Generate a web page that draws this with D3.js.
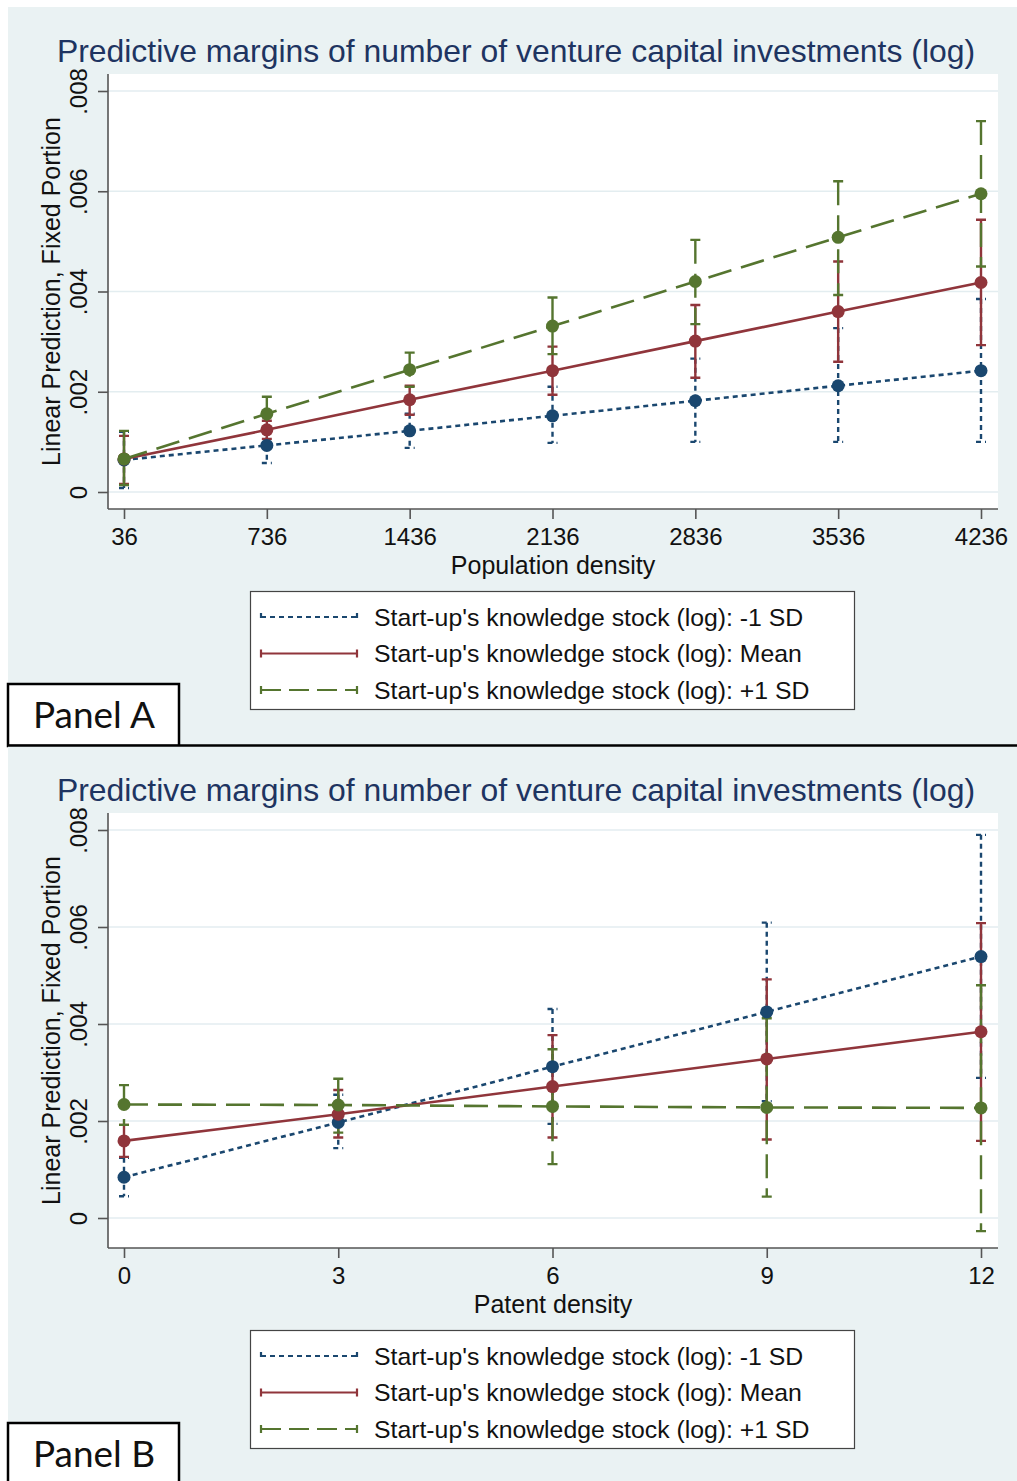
<!DOCTYPE html>
<html>
<head>
<meta charset="utf-8">
<script src="https://cdn.jsdelivr.net/npm/d3@7"></script>
<style>
  body { margin: 0; background: #fff; }
  svg { display: block; }
</style>
</head>
<body>
<svg id="chart"></svg>
<script>
// Panel A: x = population density
const popDensity = [36, 736, 1436, 2136, 2836, 3536, 4236]
const aLowMargin = [0.00064, 0.00093, 0.00122, 0.00152, 0.00182, 0.00212, 0.00242]
const aLowLower = [0.00008, 0.00058, 0.00088, 0.00098, 0.00100, 0.00100, 0.00100]
const aLowUpper = [0.00120, 0.00128, 0.00156, 0.00210, 0.00266, 0.00327, 0.00385]
const aMeanMargin = [0.00066, 0.00124, 0.00184, 0.00242, 0.00301, 0.00360, 0.00418]
const aMeanLower = [0.00016, 0.00106, 0.00154, 0.00194, 0.00228, 0.00260, 0.00293]
const aMeanUpper = [0.00112, 0.00142, 0.00212, 0.00290, 0.00373, 0.00460, 0.00543]
const aHighMargin = [0.00066, 0.00156, 0.00244, 0.00331, 0.00420, 0.00508, 0.00595]
const aHighLower = [0.00014, 0.00124, 0.00210, 0.00275, 0.00335, 0.00393, 0.00450]
const aHighUpper = [0.00122, 0.00190, 0.00278, 0.00388, 0.00503, 0.00620, 0.00740]

// Panel B: x = patent density
const patentDensity = [0, 3, 6, 9, 12]
const bLowMargin = [0.00084, 0.00197, 0.00312, 0.00425, 0.00539]
const bLowLower = [0.00045, 0.00144, 0.00194, 0.00241, 0.00289]
const bLowUpper = [0.00124, 0.00254, 0.00431, 0.00609, 0.00790]
const bMeanMargin = [0.00159, 0.00214, 0.00271, 0.00328, 0.00384]
const bMeanLower = [0.00126, 0.00166, 0.00166, 0.00162, 0.00159]
const bMeanUpper = [0.00192, 0.00264, 0.00377, 0.00492, 0.00608]
const bHighMargin = [0.00234, 0.00233, 0.00230, 0.00228, 0.00227]
const bHighLower = [0.00192, 0.00176, 0.00111, 0.00044, -0.00027]
const bHighUpper = [0.00274, 0.00287, 0.00348, 0.00412, 0.00480]

const yTicks = [0, 0.002, 0.004, 0.006, 0.008]
const seriesLabels = [
  "Start-up's knowledge stock (log): -1 SD",
  "Start-up's knowledge stock (log): Mean",
  "Start-up's knowledge stock (log): +1 SD"
]
const titleText = 'Predictive margins of number of venture capital investments (log)'
const yTitle = 'Linear Prediction, Fixed Portion'

const styles = [
  { color: '#1a476f', dash: '5,4' },
  { color: '#90353b', dash: null },
  { color: '#55752f', dash: '24,10' }
]

const W = 1017
const H = 1481
const font = "'Liberation Sans', Arial, sans-serif"

const svg = d3.select('#chart').attr('width', W).attr('height', H)
svg.append('rect').attr('width', W).attr('height', H).attr('fill', '#fff')

function makeSeries (x, mids, lows, highs) {
  return mids.map((m, i) => ({
    style: styles[i],
    label: seriesLabels[i],
    pts: x.map((xv, j) => ({ x: xv, m: m[j], lo: lows[i][j], hi: highs[i][j] }))
  }))
}

function drawPanel (cfg) {
  const g = svg.append('g').attr('transform', `translate(0,${cfg.offset})`)

  // graph region background
  g.append('rect')
    .attr('x', 8).attr('y', 7)
    .attr('width', W - 8).attr('height', cfg.bgHeight)
    .attr('fill', '#eaf2f3')

  // plot region
  const left = 108
  const right = 998
  const top = 74
  const bottom = 509
  g.append('rect')
    .attr('x', left).attr('y', top)
    .attr('width', right - left).attr('height', bottom - top)
    .attr('fill', '#fff')

  const x = d3.scaleLinear().domain(cfg.xDomain).range([124, 981])
  const y = d3.scaleLinear().domain([0, 0.008]).range(cfg.yRange)

  // gridlines
  g.append('g').selectAll('line')
    .data(yTicks)
    .join('line')
    .attr('x1', left).attr('x2', right)
    .attr('y1', d => y(d)).attr('y2', d => y(d))
    .attr('stroke', '#e3edf0').attr('stroke-width', 1.6)

  // title
  g.append('text')
    .attr('x', 516).attr('y', 62)
    .attr('text-anchor', 'middle')
    .attr('font-family', font).attr('font-size', 31.9)
    .attr('fill', '#1e3461')
    .text(titleText)

  // y axis
  const fmt = d => d === 0 ? '0' : d3.format('.3f')(d).replace(/^0/, '')
  const yAxis = g.append('g')
    .attr('transform', `translate(${left},0)`)
    .call(d3.axisLeft(y).tickValues(yTicks).tickFormat(fmt).tickSize(10).tickSizeOuter(0))
  yAxis.select('.domain').attr('d', `M0,${top}V${bottom}`)
  yAxis.selectAll('text')
    .attr('x', null).attr('dy', null)
    .attr('transform', 'translate(-21,0) rotate(-90)')
    .attr('text-anchor', 'middle')
    .attr('font-family', font).attr('font-size', 24).attr('fill', '#111')

  g.append('text')
    .attr('transform', `translate(60,${(top + bottom) / 2}) rotate(-90)`)
    .attr('text-anchor', 'middle')
    .attr('font-family', font).attr('font-size', 25).attr('fill', '#111')
    .text(yTitle)

  // x axis
  const xAxis = g.append('g')
    .attr('transform', `translate(0,${bottom})`)
    .call(d3.axisBottom(x).tickValues(cfg.xValues).tickFormat(d3.format('d')).tickSize(10).tickSizeOuter(0))
  xAxis.select('.domain').attr('d', `M${left},0H${right}`)
  xAxis.selectAll('text')
    .attr('y', 36).attr('dy', null)
    .attr('font-family', font).attr('font-size', 24).attr('fill', '#111')

  g.selectAll('.domain, .tick line').attr('stroke', '#555').attr('stroke-width', 1.6)

  g.append('text')
    .attr('x', (left + right) / 2).attr('y', bottom + 65)
    .attr('text-anchor', 'middle')
    .attr('font-family', font).attr('font-size', 25).attr('fill', '#111')
    .text(cfg.xTitle)

  // confidence intervals (drawn first, as rcap)
  const cap = 5
  cfg.series.forEach(s => {
    const ci = g.append('g')
      .attr('stroke', s.style.color).attr('stroke-width', 2.4)
      .attr('stroke-dasharray', s.style.dash)
      .attr('fill', 'none')
    ci.selectAll('path')
      .data(s.pts)
      .join('path')
      .attr('d', p => {
        const px = x(p.x)
        return `M${px - cap},${y(p.hi)}H${px + cap}M${px},${y(p.hi)}V${y(p.lo)}M${px - cap},${y(p.lo)}H${px + cap}`
      })
  })

  // margin lines + markers
  const line = d3.line().x(p => x(p.x)).y(p => y(p.m))
  cfg.series.forEach(s => {
    g.append('path')
      .datum(s.pts)
      .attr('d', line)
      .attr('fill', 'none')
      .attr('stroke', s.style.color).attr('stroke-width', 2.6)
      .attr('stroke-dasharray', s.style.dash)
    g.append('g').selectAll('circle')
      .data(s.pts)
      .join('circle')
      .attr('cx', p => x(p.x)).attr('cy', p => y(p.m))
      .attr('r', 6.5)
      .attr('fill', s.style.color)
  })

  // legend
  const lg = g.append('g')
  lg.append('rect')
    .attr('x', 250.5).attr('y', 591.5)
    .attr('width', 604).attr('height', 118)
    .attr('fill', '#fff').attr('stroke', '#444').attr('stroke-width', 1.2)
  cfg.series.forEach((s, i) => {
    const ry = 617 + i * 36.5
    lg.append('path')
      .attr('d', `M261,${ry - 4}V${ry + 4}M261,${ry}H357M357,${ry - 4}V${ry + 4}`)
      .attr('fill', 'none')
      .attr('stroke', s.style.color).attr('stroke-width', 2.2)
      .attr('stroke-dasharray', s.style.dash ? (i === 0 ? '5,4' : '20,8') : null)
    lg.append('text')
      .attr('x', 374).attr('y', ry + 8.5)
      .attr('font-family', font).attr('font-size', 24.8).attr('fill', '#111')
      .text(s.label)
  })

  // panel label box
  g.append('rect')
    .attr('x', 8).attr('y', 684)
    .attr('width', 171).attr('height', 62)
    .attr('fill', '#fff').attr('stroke', '#000').attr('stroke-width', 2.5)
  g.append('text')
    .attr('x', 94).attr('y', 728)
    .attr('text-anchor', 'middle')
    .attr('font-family', 'Lato, sans-serif').attr('font-size', 36)
    .attr('textLength', 122).attr('lengthAdjust', 'spacingAndGlyphs')
    .attr('fill', '#111')
    .text(cfg.label)
}

drawPanel({
  offset: 0,
  bgHeight: 738,
  xDomain: [36, 4236],
  xValues: popDensity,
  xTitle: 'Population density',
  yRange: [492, 91],
  label: 'Panel A',
  series: makeSeries(popDensity,
    [aLowMargin, aMeanMargin, aHighMargin],
    [aLowLower, aMeanLower, aHighLower],
    [aLowUpper, aMeanUpper, aHighUpper])
})

drawPanel({
  offset: 739,
  bgHeight: 740,
  xDomain: [0, 12],
  xValues: patentDensity,
  xTitle: 'Patent density',
  yRange: [479, 91],
  label: 'Panel B',
  series: makeSeries(patentDensity,
    [bLowMargin, bMeanMargin, bHighMargin],
    [bLowLower, bMeanLower, bHighLower],
    [bLowUpper, bMeanUpper, bHighUpper])
})

// separator line between the panels
svg.append('line')
  .attr('x1', 7).attr('x2', W)
  .attr('y1', 745.5).attr('y2', 745.5)
  .attr('stroke', '#000').attr('stroke-width', 2.5)
</script>
</body>
</html>
